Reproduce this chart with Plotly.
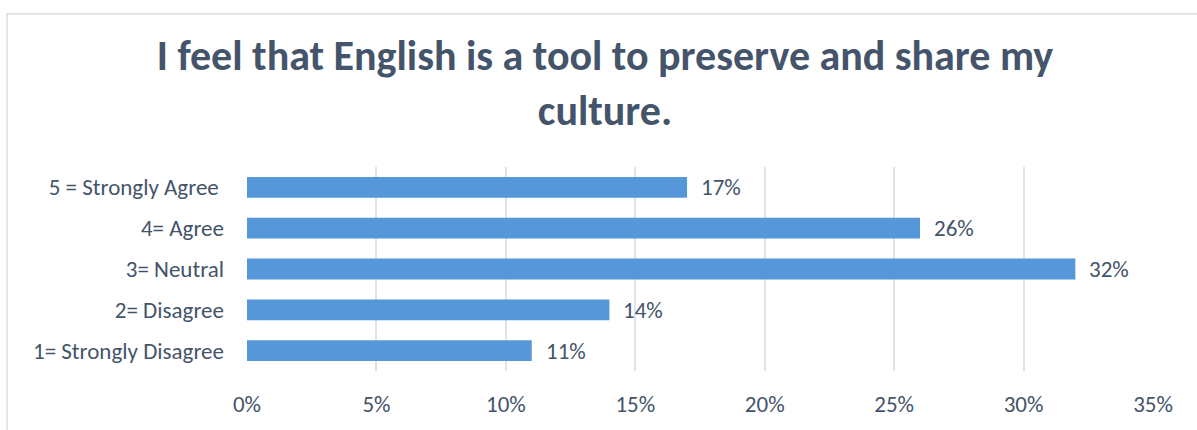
import plotly.graph_objects as go

categories = ["1= Strongly Disagree", "2= Disagree", "3= Neutral", "4= Agree", "5 = Strongly Agree\u00a0"]
values = [0.11, 0.14, 0.32, 0.26, 0.17]
labels = ["11%", "14%", "32%", "26%", "17%"]
tick_vals = [0, 0.05, 0.10, 0.15, 0.20, 0.25, 0.30, 0.35]
tick_text = ["0%", "5%", "10%", "15%", "20%", "25%", "30%", "35%"]
title = "I feel that English is a tool to preserve and share my<br>culture."

FONT = "Calibri, Carlito, Lato, sans-serif"
TXT = "#44546a"

W, H = 1197, 430
L, R, T, B = 247, 44, 167, 54

fig = go.Figure()
fig.add_trace(go.Bar(
    y=categories, x=values, orientation="h",
    marker=dict(color="#5597d8", line=dict(width=0)),
    hoverinfo="skip",
))

for c, v, t in zip(categories, values, labels):
    fig.add_annotation(x=v, y=c, text=t, showarrow=False, xanchor="left",
                       xshift=12, font=dict(family=FONT, size=23, color=TXT))

pw = W - L - R
ph = H - T - B
fig.add_shape(type="rect", xref="paper", yref="paper",
              x0=(7 - L) / pw, x1=(W + 10 - L) / pw,
              y0=(H - B - (H + 10)) / ph, y1=(H - B - 10) / ph,
              line=dict(color="#dadee6", width=1.5), fillcolor="rgba(0,0,0,0)", layer="below")

fig.update_layout(
    width=W, height=H,
    margin=dict(l=L, r=R, t=T, b=B),
    paper_bgcolor="white", plot_bgcolor="white",
    showlegend=False,
    bargap=0.49,
    title=dict(text=title, x=605 / W, xanchor="center", xref="container",
               y=1 - 70 / H, yanchor="top", yref="container",
               font=dict(family=FONT, size=42, color=TXT, weight="bold")),
    xaxis=dict(range=[0, 0.35], tickvals=tick_vals, ticktext=tick_text,
               showgrid=True, gridcolor="#dfe2e8", gridwidth=1.5,
               zeroline=False, showline=False, ticks="",
               ticklabelstandoff=17,
               tickfont=dict(family=FONT, size=23, color=TXT), fixedrange=True),
    yaxis=dict(showgrid=False, zeroline=False, showline=False, ticks="",
               ticklabelstandoff=22,
               tickfont=dict(family=FONT, size=23, color=TXT), fixedrange=True),
)

fig.write_html("out.html", config={"displayModeBar": False},
               post_script="document.body.style.margin='0';document.body.style.overflow='hidden';")
